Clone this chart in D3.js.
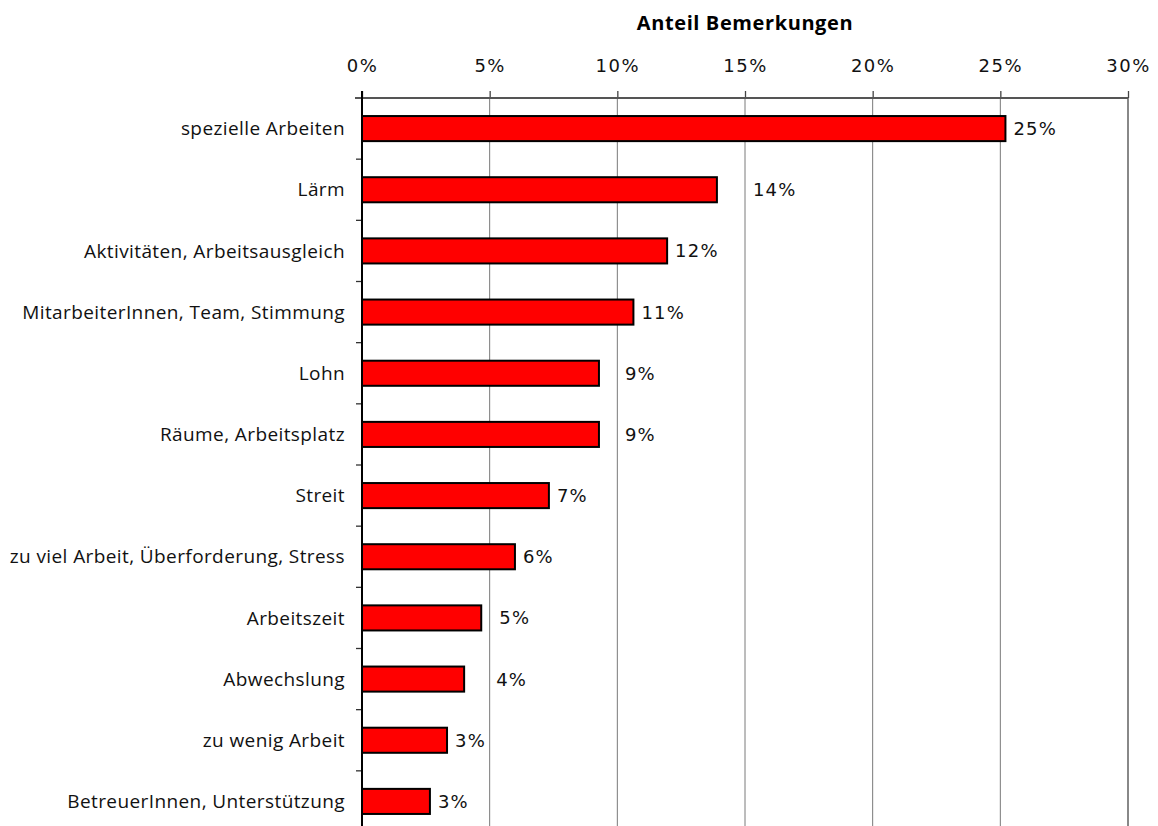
<!DOCTYPE html>
<html>
<head>
<meta charset="utf-8">
<script src="https://cdn.jsdelivr.net/npm/d3@7"></script>
<style>
  html, body { margin: 0; padding: 0; background: #fff; }
  svg { display: block; }
</style>
</head>
<body>
<svg id="chart" width="1158" height="826"></svg>
<script>
// Themen der Bemerkungen, sortiert nach Anteil
const categories = [
  "spezielle Arbeiten",
  "Lärm",
  "Aktivitäten, Arbeitsausgleich",
  "MitarbeiterInnen, Team, Stimmung",
  "Lohn",
  "Räume, Arbeitsplatz",
  "Streit",
  "zu viel Arbeit, Überforderung, Stress",
  "Arbeitszeit",
  "Abwechslung",
  "zu wenig Arbeit",
  "BetreuerInnen, Unterstützung"
];
const shares = [0.252, 0.139, 0.1195, 0.1063, 0.0928, 0.0928, 0.0732, 0.0599, 0.0467, 0.040, 0.0333, 0.0266];
const xTicks = [0, 0.05, 0.10, 0.15, 0.20, 0.25, 0.30];
const axisTitle = "Anteil Bemerkungen";
// hand-placed label shifts (px) for some value labels
const labelShift = [0, 28, 0, 0, 18, 18, 0, 0, 10, 24, 0, 0];

const svg = d3.select("#chart");
const plotLeft = 362, plotRight = 1128, plotTop = 98, plotBottom = 832;

const x = d3.scaleLinear().domain([0, 0.30]).range([plotLeft, plotRight]);
const y = d3.scaleBand().domain(categories).range([plotTop, plotBottom]);
const barH = y.step() * 0.41;
const pct = d3.format(".0%");

// vertical gridlines
svg.append("g")
  .selectAll("line")
  .data(xTicks.slice(1, -1))
  .join("line")
  .attr("x1", d => x(d)).attr("x2", d => x(d))
  .attr("y1", plotTop).attr("y2", plotBottom)
  .attr("stroke", "#7a7a7a").attr("stroke-width", 1);

// right border of plot area
svg.append("line")
  .attr("x1", plotRight).attr("x2", plotRight)
  .attr("y1", plotTop).attr("y2", plotBottom)
  .attr("stroke", "#888").attr("stroke-width", 2);

// top axis
const xAxis = d3.axisTop(x)
  .tickValues(xTicks)
  .tickFormat(pct)
  .tickSize(7)
  .tickSizeOuter(0);
const gx = svg.append("g").attr("transform", `translate(0,${plotTop})`).call(xAxis);
gx.select(".domain").remove();
gx.selectAll(".tick line").attr("stroke", "#444").attr("stroke-width", 1.3);
gx.selectAll(".tick text")
  .attr("y", -26)
  .attr("fill", "#111")
  .style("font-family", "'DejaVu Sans', sans-serif")
  .style("font-size", "18px")
  .style("letter-spacing", "1.5px");
svg.append("line")
  .attr("x1", plotLeft - 7).attr("x2", plotRight)
  .attr("y1", plotTop).attr("y2", plotTop)
  .attr("stroke", "#555").attr("stroke-width", 2);

// axis title
svg.append("text")
  .attr("x", (plotLeft + plotRight) / 2)
  .attr("y", 30)
  .attr("text-anchor", "middle")
  .style("font-family", "'Open Sans', sans-serif")
  .style("font-weight", "bold")
  .style("font-size", "20px")
  .style("letter-spacing", "0.6px")
  .attr("fill", "#000")
  .text(axisTitle);

// bars
svg.append("g")
  .selectAll("rect")
  .data(shares)
  .join("rect")
  .attr("x", x(0))
  .attr("y", (d, i) => y(categories[i]) + (y.step() - barH) / 2)
  .attr("width", d => x(d) - x(0))
  .attr("height", barH)
  .attr("fill", "#ff0000")
  .attr("stroke", "#000")
  .attr("stroke-width", 2);

// left axis with category ticks at band boundaries
svg.append("g")
  .selectAll("line")
  .data(categories.slice(1))
  .join("line")
  .attr("x1", plotLeft - 6).attr("x2", plotLeft)
  .attr("y1", d => y(d)).attr("y2", d => y(d))
  .attr("stroke", "#333").attr("stroke-width", 1.3);
svg.append("line")
  .attr("x1", plotLeft).attr("x2", plotLeft)
  .attr("y1", plotTop - 7).attr("y2", plotBottom)
  .attr("stroke", "#000").attr("stroke-width", 2);

// category labels
svg.append("g")
  .selectAll("text")
  .data(categories)
  .join("text")
  .attr("x", plotLeft - 17)
  .attr("y", d => y(d) + y.step() / 2)
  .attr("dy", "0.35em")
  .attr("text-anchor", "end")
  .attr("fill", "#111")
  .style("font-family", "'Open Sans', sans-serif")
  .style("font-size", "19px")
  .style("letter-spacing", "0.4px")
  .text(d => d);

// value labels
svg.append("g")
  .selectAll("text")
  .data(shares)
  .join("text")
  .attr("x", (d, i) => x(d) + 8 + labelShift[i])
  .attr("y", (d, i) => y(categories[i]) + y.step() / 2)
  .attr("dy", "0.36em")
  .attr("fill", "#111")
  .style("font-family", "'DejaVu Sans', sans-serif")
  .style("font-size", "18px")
  .style("letter-spacing", "1.2px")
  .text(d => pct(d));
</script>
</body>
</html>
